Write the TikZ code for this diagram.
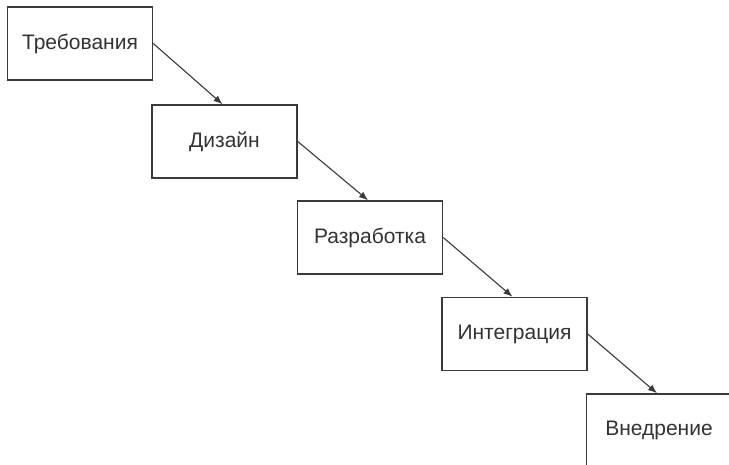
\documentclass[tikz,border=0pt]{standalone}
\usepackage{fontspec}
\setmainfont{Liberation Sans}
\usetikzlibrary{arrows.meta}
\definecolor{linecol}{HTML}{3A3A3A}
\definecolor{textcol}{HTML}{333333}
\begin{document}
\begin{tikzpicture}[x=1pt,y=-1pt,
  stagebox/.style={draw=linecol, line width=1.5pt, fill=white, minimum width=145pt, minimum height=73pt, inner sep=0pt, font=\fontsize{21}{24}\selectfont, text=textcol},
  flow/.style={draw=linecol, line width=1.1pt, -{Latex[length=9pt,width=7pt]}}]
\useasboundingbox (0,0) rectangle (729,465);
\clip (0,0) rectangle (729,465);
\fill[white] (0,0) rectangle (729,465);
\node[stagebox] (req) at (80,43.5) {Требования};
\node[stagebox] (des) at (224.5,141.5) {Дизайн};
\node[stagebox] (dev) at (370,237.5) {Разработка};
\node[stagebox] (int) at (514.5,334) {Интеграция};
\node[stagebox] (dep) at (659,430.5) {Внедрение};
\draw[flow] (req.east) -- ([xshift=-2pt]des.north);
\draw[flow] (des.east) -- ([xshift=-2pt]dev.north);
\draw[flow] (dev.east) -- ([xshift=-2pt]int.north);
\draw[flow] (int.east) -- ([xshift=-2pt]dep.north);
\end{tikzpicture}
\end{document}
